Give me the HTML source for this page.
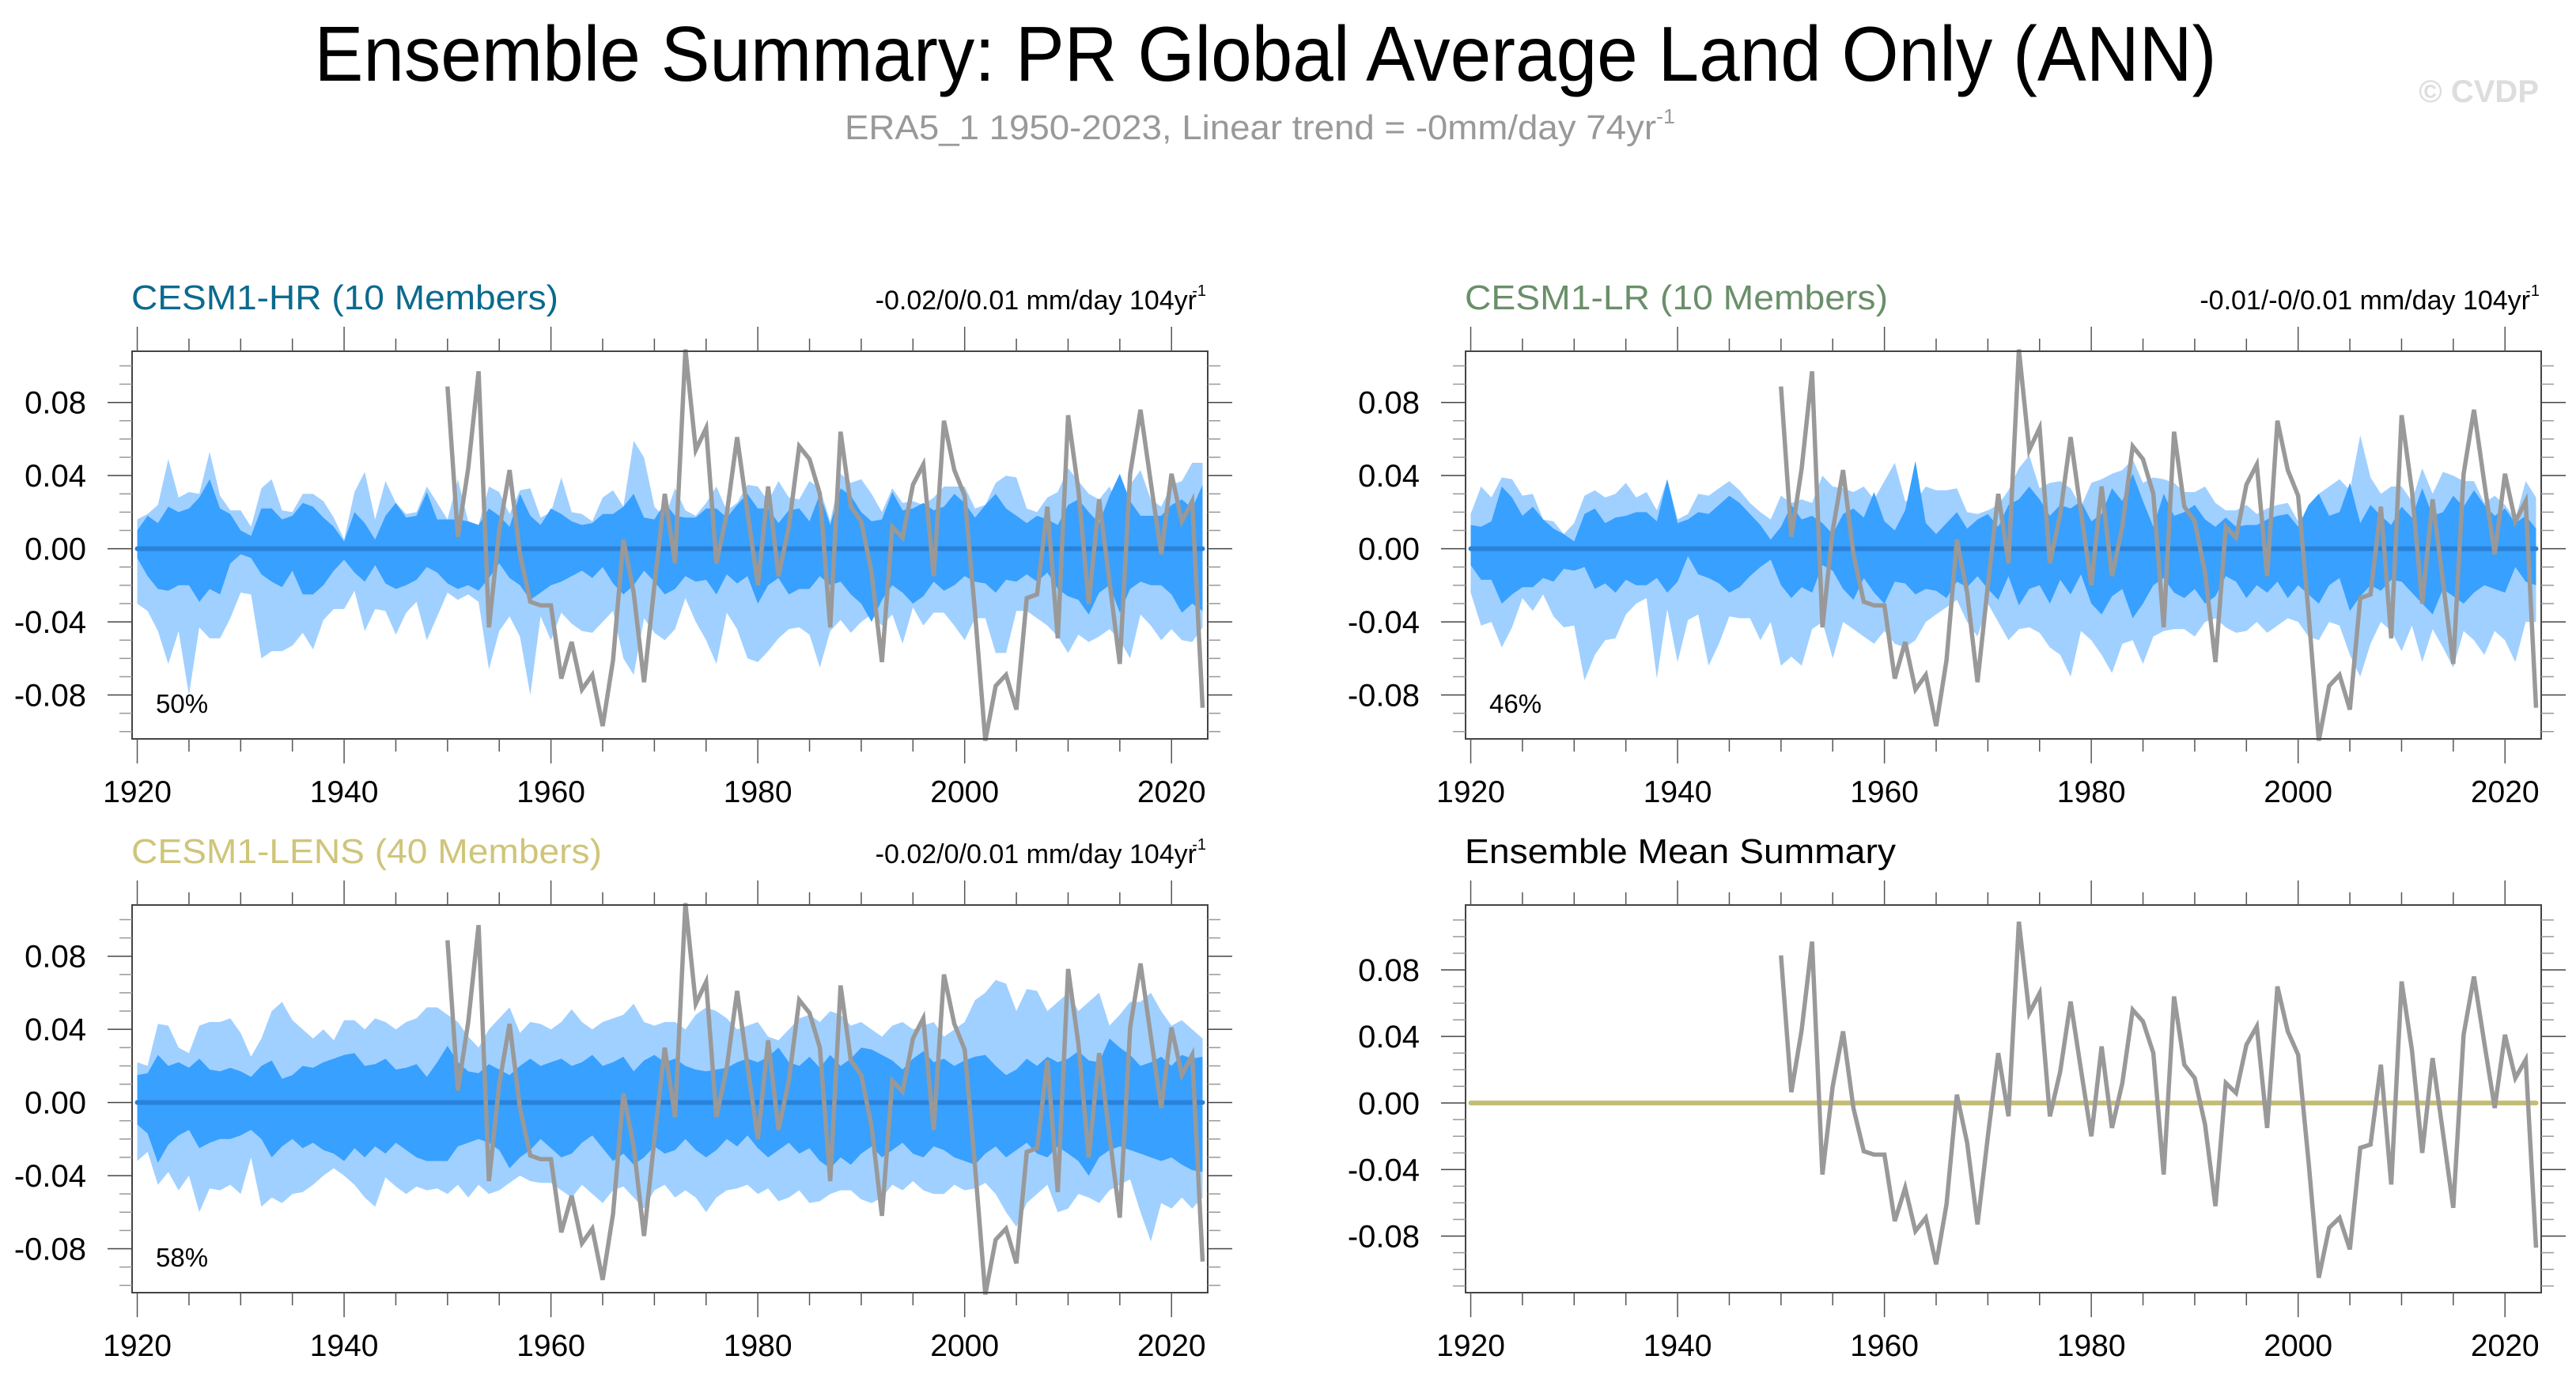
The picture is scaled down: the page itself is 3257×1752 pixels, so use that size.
<!DOCTYPE html>
<html><head><meta charset="utf-8"><title>Ensemble Summary</title>
<style>
html,body{margin:0;padding:0;background:#fff;}
svg{display:block;font-family:"Liberation Sans",Arial,sans-serif;}
</style></head>
<body>
<svg id="chart" width="3257" height="1752" viewBox="0 0 3257 1752" xmlns="http://www.w3.org/2000/svg">
<text x="1600" y="102" font-size="98" text-anchor="middle" textLength="2405" lengthAdjust="spacingAndGlyphs" fill="#000">Ensemble Summary: PR Global Average Land Only (ANN)</text>
<text x="1068" y="176" font-size="44" fill="#999" textLength="1050" lengthAdjust="spacingAndGlyphs">ERA5_1 1950-2023, Linear trend = -0mm/day 74yr<tspan font-size="26" dy="-20">-1</tspan></text>
<text x="3210" y="129" font-size="40" font-weight="bold" fill="#ddd" text-anchor="end">© CVDP</text>
<g id="panels"></g>
</svg>
<script>
// ---- data ----
const obsStartYear = 1950;
const obsValues = [0.0887,0.0065,0.044,0.097,-0.043,0.010,0.043,-0.003,-0.029,-0.031,-0.031,-0.071,-0.051,-0.077,-0.069,-0.097,-0.061,0.005,-0.024,-0.073,-0.020,0.030,-0.008,0.109,0.054,0.066,-0.008,0.019,0.061,0.020,-0.020,0.034,-0.015,0.012,0.056,0.049,0.030,-0.043,0.064,0.023,0.015,-0.013,-0.062,0.012,0.006,0.035,0.046,-0.015,0.070,0.043,0.029,-0.035,-0.105,-0.075,-0.069,-0.088,-0.027,-0.025,0.023,-0.049,0.073,0.032,-0.030,0.027,-0.018,-0.063,0.041,0.076,0.036,-0.003,0.041,0.015,0.026,-0.087];
const bandStartYear = 1920;
const hrLightUpper = [0.016,0.019,0.024,0.049,0.028,0.031,0.030,0.053,0.029,0.021,0.021,0.012,0.033,0.038,0.021,0.020,0.030,0.030,0.026,0.017,0.005,0.031,0.042,0.016,0.037,0.025,0.019,0.020,0.034,0.025,0.016,0.038,0.015,0.013,0.034,0.031,0.019,0.032,0.033,0.017,0.020,0.039,0.020,0.019,0.015,0.028,0.032,0.023,0.059,0.050,0.023,0.017,0.033,0.021,0.018,0.025,0.034,0.021,0.025,0.035,0.034,0.026,0.037,0.028,0.027,0.037,0.033,0.015,0.041,0.036,0.038,0.030,0.020,0.033,0.025,0.026,0.024,0.028,0.034,0.034,0.034,0.022,0.024,0.036,0.040,0.039,0.022,0.020,0.028,0.031,0.044,0.037,0.030,0.027,0.034,0.022,0.035,0.043,0.027,0.023,0.035,0.037,0.047,0.047];
const hrDarkUpper = [0.010,0.018,0.014,0.023,0.020,0.022,0.028,0.038,0.022,0.019,0.010,0.007,0.022,0.022,0.016,0.018,0.025,0.023,0.017,0.012,0.004,0.020,0.014,0.005,0.018,0.025,0.017,0.018,0.031,0.016,0.016,0.016,0.015,0.013,0.022,0.018,0.012,0.030,0.018,0.013,0.022,0.019,0.015,0.013,0.014,0.019,0.019,0.023,0.030,0.017,0.016,0.025,0.018,0.017,0.017,0.022,0.022,0.017,0.024,0.030,0.022,0.022,0.014,0.021,0.022,0.015,0.030,0.013,0.033,0.029,0.020,0.015,0.016,0.031,0.021,0.022,0.025,0.021,0.023,0.030,0.025,0.017,0.024,0.030,0.022,0.018,0.014,0.018,0.016,0.013,0.024,0.027,0.020,0.014,0.029,0.041,0.026,0.018,0.018,0.018,0.024,0.027,0.022,0.035];
const hrDarkLower = [-0.005,-0.015,-0.022,-0.023,-0.020,-0.020,-0.029,-0.022,-0.025,-0.008,-0.003,-0.005,-0.014,-0.018,-0.021,-0.012,-0.025,-0.025,-0.020,-0.012,-0.006,-0.013,-0.018,-0.009,-0.019,-0.022,-0.020,-0.017,-0.010,-0.013,-0.019,-0.022,-0.020,-0.023,-0.016,-0.008,-0.016,-0.020,-0.028,-0.024,-0.020,-0.018,-0.015,-0.012,-0.016,-0.010,-0.019,-0.025,-0.020,-0.012,-0.018,-0.025,-0.022,-0.015,-0.018,-0.017,-0.025,-0.014,-0.019,-0.015,-0.030,-0.020,-0.016,-0.025,-0.022,-0.022,-0.015,-0.020,-0.018,-0.025,-0.030,-0.040,-0.028,-0.020,-0.024,-0.030,-0.026,-0.018,-0.023,-0.020,-0.015,-0.018,-0.019,-0.024,-0.017,-0.018,-0.014,-0.018,-0.013,-0.022,-0.026,-0.028,-0.036,-0.024,-0.020,-0.035,-0.022,-0.018,-0.020,-0.020,-0.025,-0.035,-0.030,-0.034];
const hrLightLower = [-0.030,-0.034,-0.045,-0.063,-0.045,-0.080,-0.043,-0.049,-0.049,-0.038,-0.024,-0.025,-0.060,-0.056,-0.056,-0.053,-0.046,-0.055,-0.039,-0.033,-0.033,-0.023,-0.045,-0.033,-0.034,-0.047,-0.035,-0.029,-0.050,-0.037,-0.024,-0.028,-0.025,-0.029,-0.066,-0.045,-0.037,-0.048,-0.080,-0.037,-0.050,-0.035,-0.041,-0.045,-0.046,-0.040,-0.034,-0.060,-0.069,-0.038,-0.046,-0.050,-0.044,-0.027,-0.040,-0.050,-0.063,-0.035,-0.044,-0.060,-0.062,-0.056,-0.049,-0.044,-0.043,-0.047,-0.065,-0.045,-0.039,-0.046,-0.040,-0.036,-0.042,-0.036,-0.052,-0.032,-0.042,-0.035,-0.035,-0.042,-0.050,-0.038,-0.038,-0.057,-0.057,-0.034,-0.034,-0.038,-0.042,-0.048,-0.057,-0.047,-0.051,-0.048,-0.044,-0.050,-0.060,-0.036,-0.042,-0.050,-0.044,-0.050,-0.051,-0.043];
const lrLightUpper = [0.019,0.034,0.028,0.039,0.038,0.029,0.030,0.016,0.015,0.008,0.014,0.029,0.032,0.028,0.030,0.036,0.028,0.031,0.021,0.038,0.016,0.019,0.030,0.029,0.033,0.037,0.032,0.025,0.020,0.016,0.029,0.025,0.027,0.025,0.040,0.034,0.033,0.031,0.034,0.027,0.037,0.047,0.026,0.026,0.034,0.032,0.032,0.033,0.020,0.019,0.021,0.024,0.032,0.044,0.051,0.033,0.036,0.037,0.033,0.023,0.036,0.038,0.041,0.043,0.049,0.036,0.039,0.038,0.036,0.031,0.031,0.034,0.025,0.021,0.021,0.024,0.019,0.022,0.024,0.025,0.015,0.018,0.030,0.034,0.038,0.032,0.062,0.039,0.030,0.034,0.034,0.026,0.044,0.030,0.042,0.040,0.037,0.037,0.025,0.029,0.024,0.016,0.037,0.028];
const lrDarkUpper = [0.013,0.012,0.015,0.034,0.028,0.018,0.023,0.016,0.011,0.008,0.004,0.019,0.022,0.014,0.017,0.018,0.020,0.020,0.015,0.038,0.014,0.016,0.020,0.019,0.024,0.029,0.025,0.019,0.013,0.005,0.012,0.024,0.016,0.018,0.014,0.008,0.019,0.022,0.017,0.031,0.015,0.010,0.021,0.048,0.014,0.008,0.014,0.020,0.011,0.016,0.019,0.012,0.024,0.027,0.034,0.027,0.018,0.024,0.022,0.026,0.015,0.019,0.033,0.026,0.041,0.026,0.012,0.030,0.018,0.020,0.024,0.016,0.012,0.017,0.012,0.013,0.013,0.016,0.018,0.019,0.012,0.024,0.030,0.018,0.020,0.036,0.014,0.024,0.018,0.013,0.023,0.017,0.033,0.018,0.020,0.029,0.023,0.032,0.024,0.018,0.022,0.014,0.018,0.011];
const lrDarkLower = [-0.009,-0.017,-0.017,-0.030,-0.025,-0.021,-0.021,-0.016,-0.018,-0.011,-0.012,-0.010,-0.022,-0.019,-0.024,-0.017,-0.020,-0.020,-0.016,-0.024,-0.018,-0.004,-0.014,-0.016,-0.019,-0.024,-0.021,-0.015,-0.010,-0.006,-0.020,-0.027,-0.021,-0.024,-0.009,-0.012,-0.022,-0.028,-0.016,-0.024,-0.030,-0.018,-0.019,-0.025,-0.022,-0.023,-0.027,-0.018,-0.021,-0.015,-0.022,-0.028,-0.015,-0.031,-0.022,-0.020,-0.030,-0.017,-0.025,-0.014,-0.030,-0.036,-0.026,-0.022,-0.038,-0.030,-0.020,-0.016,-0.024,-0.027,-0.022,-0.030,-0.026,-0.015,-0.018,-0.027,-0.020,-0.024,-0.018,-0.027,-0.020,-0.025,-0.030,-0.020,-0.016,-0.034,-0.026,-0.020,-0.023,-0.017,-0.018,-0.024,-0.030,-0.036,-0.022,-0.026,-0.030,-0.024,-0.020,-0.022,-0.024,-0.010,-0.018,-0.020];
const lrLightLower = [-0.024,-0.042,-0.040,-0.054,-0.043,-0.027,-0.034,-0.025,-0.037,-0.043,-0.042,-0.072,-0.058,-0.050,-0.049,-0.036,-0.030,-0.027,-0.071,-0.033,-0.062,-0.039,-0.036,-0.064,-0.052,-0.037,-0.038,-0.038,-0.050,-0.040,-0.064,-0.059,-0.064,-0.044,-0.040,-0.060,-0.040,-0.044,-0.048,-0.052,-0.045,-0.052,-0.054,-0.050,-0.040,-0.036,-0.032,-0.028,-0.040,-0.048,-0.030,-0.040,-0.050,-0.044,-0.043,-0.046,-0.054,-0.058,-0.070,-0.045,-0.050,-0.058,-0.068,-0.052,-0.050,-0.063,-0.048,-0.045,-0.044,-0.044,-0.048,-0.040,-0.038,-0.043,-0.046,-0.045,-0.040,-0.046,-0.042,-0.038,-0.040,-0.048,-0.050,-0.040,-0.042,-0.058,-0.070,-0.052,-0.040,-0.045,-0.056,-0.042,-0.062,-0.044,-0.054,-0.065,-0.045,-0.050,-0.058,-0.045,-0.050,-0.062,-0.040,-0.040];
const lensLightUpper = [0.022,0.020,0.043,0.042,0.030,0.027,0.042,0.044,0.044,0.046,0.038,0.025,0.035,0.050,0.055,0.045,0.040,0.035,0.040,0.034,0.045,0.045,0.040,0.046,0.044,0.040,0.044,0.046,0.052,0.052,0.048,0.044,0.036,0.030,0.040,0.046,0.052,0.038,0.044,0.043,0.040,0.044,0.051,0.044,0.040,0.044,0.046,0.048,0.054,0.044,0.042,0.044,0.044,0.040,0.048,0.052,0.050,0.046,0.040,0.042,0.044,0.036,0.034,0.040,0.046,0.048,0.044,0.050,0.048,0.042,0.044,0.040,0.036,0.042,0.044,0.040,0.042,0.044,0.036,0.040,0.044,0.056,0.060,0.067,0.065,0.050,0.062,0.061,0.050,0.055,0.060,0.050,0.055,0.060,0.042,0.048,0.055,0.055,0.060,0.050,0.042,0.045,0.040,0.035];
const lensDarkUpper = [0.015,0.016,0.026,0.020,0.022,0.019,0.024,0.018,0.017,0.019,0.017,0.014,0.020,0.023,0.013,0.015,0.020,0.019,0.022,0.024,0.026,0.027,0.020,0.021,0.024,0.018,0.019,0.021,0.014,0.022,0.031,0.022,0.017,0.016,0.021,0.018,0.015,0.020,0.024,0.020,0.022,0.024,0.020,0.022,0.026,0.020,0.022,0.025,0.017,0.023,0.026,0.022,0.024,0.020,0.018,0.017,0.018,0.019,0.022,0.024,0.022,0.025,0.030,0.022,0.020,0.025,0.019,0.026,0.020,0.024,0.030,0.029,0.026,0.023,0.018,0.024,0.028,0.022,0.024,0.020,0.023,0.025,0.026,0.020,0.015,0.018,0.024,0.020,0.025,0.022,0.024,0.028,0.023,0.022,0.035,0.030,0.026,0.020,0.022,0.025,0.020,0.026,0.024,0.025];
const lensDarkLower = [-0.012,-0.017,-0.033,-0.023,-0.018,-0.015,-0.025,-0.022,-0.020,-0.020,-0.018,-0.015,-0.020,-0.030,-0.024,-0.020,-0.025,-0.022,-0.026,-0.028,-0.032,-0.025,-0.030,-0.024,-0.028,-0.022,-0.026,-0.030,-0.032,-0.032,-0.032,-0.024,-0.022,-0.020,-0.022,-0.026,-0.036,-0.030,-0.026,-0.020,-0.025,-0.030,-0.028,-0.022,-0.018,-0.025,-0.032,-0.028,-0.034,-0.030,-0.024,-0.028,-0.026,-0.020,-0.026,-0.030,-0.026,-0.020,-0.024,-0.018,-0.025,-0.030,-0.026,-0.022,-0.028,-0.025,-0.032,-0.036,-0.030,-0.034,-0.028,-0.024,-0.030,-0.026,-0.022,-0.028,-0.030,-0.024,-0.026,-0.030,-0.032,-0.034,-0.028,-0.024,-0.030,-0.026,-0.022,-0.028,-0.030,-0.024,-0.028,-0.032,-0.040,-0.030,-0.026,-0.024,-0.026,-0.028,-0.030,-0.032,-0.030,-0.034,-0.037,-0.038];
const lensLightLower = [-0.032,-0.027,-0.045,-0.038,-0.048,-0.040,-0.060,-0.047,-0.048,-0.045,-0.050,-0.030,-0.057,-0.052,-0.055,-0.050,-0.049,-0.045,-0.040,-0.036,-0.040,-0.045,-0.052,-0.057,-0.041,-0.046,-0.050,-0.046,-0.048,-0.047,-0.050,-0.045,-0.052,-0.045,-0.050,-0.048,-0.044,-0.040,-0.043,-0.044,-0.044,-0.048,-0.052,-0.045,-0.050,-0.055,-0.048,-0.046,-0.052,-0.058,-0.048,-0.045,-0.052,-0.048,-0.052,-0.060,-0.052,-0.048,-0.047,-0.045,-0.050,-0.047,-0.054,-0.052,-0.048,-0.055,-0.054,-0.050,-0.048,-0.048,-0.053,-0.055,-0.052,-0.045,-0.048,-0.043,-0.048,-0.050,-0.050,-0.045,-0.048,-0.047,-0.044,-0.050,-0.060,-0.068,-0.055,-0.050,-0.045,-0.060,-0.058,-0.050,-0.052,-0.055,-0.048,-0.045,-0.042,-0.060,-0.076,-0.055,-0.058,-0.052,-0.058,-0.052];
const ensembleMeanValues = [0, 0];
const xTickYears = [1920,1940,1960,1980,2000,2020];
const yTickValues = [0.08,0.04,0.00,-0.04,-0.08];
const yTickLabels = ["0.08","0.04","0.00","-0.04","-0.08"];

// ---- drawing ----
const NS = "http://www.w3.org/2000/svg";
const root = document.getElementById("panels");
function mk(tag, attrs, parent){
  const e = document.createElementNS(NS, tag);
  for (const k in attrs) e.setAttribute(k, attrs[k]);
  (parent||root).appendChild(e);
  return e;
}
const X0 = 1919.5, X1 = 2023.5;

function panel(cfg){
  const g = mk("g", {});
  
  
  const L = cfg.x, R = cfg.x + cfg.w, T = cfg.y, B = cfg.y + cfg.h;
  const sx = yr => L + (yr - X0) / (X1 - X0) * (R - L);
  const sy = v => T + (cfg.ymax - v) / (cfg.ymax - cfg.ymin) * (B - T);

  function band(up, lo, fill, nm){
    let pts = [];
    for (let i = 0; i < up.length; i++) pts.push(sx(bandStartYear + i).toFixed(1) + "," + sy(up[i]).toFixed(1));
    for (let i = lo.length - 1; i >= 0; i--) pts.push(sx(bandStartYear + i).toFixed(1) + "," + sy(lo[i]).toFixed(1));
    const p = mk("polygon", {points: pts.join(" "), fill: fill}, g);
    
    
  }
  if (cfg.bands){
    band(cfg.bands[0], cfg.bands[3], "#a0d0ff", "outer-spread-band");
    band(cfg.bands[1], cfg.bands[2], "#38a0ff", "inner-spread-band");
  }
  const ml = mk("line", {x1: sx(1920), x2: sx(2023), y1: sy(ensembleMeanValues[0]), y2: sy(ensembleMeanValues[1]), stroke: cfg.meanColor, "stroke-width": cfg.meanWidth, "stroke-linecap": "round"}, g);
  
  
  const op = obsValues.map((v, i) => sx(obsStartYear + i).toFixed(1) + "," + sy(v).toFixed(1)).join(" ");
  const ol = mk("polyline", {points: op, fill: "none", stroke: "#999", "stroke-width": 5.5, "stroke-linejoin": "miter"}, g);
  
  
  const fr = mk("rect", {x: L, y: T, width: R - L, height: B - T, fill: "none", stroke: "#444", "stroke-width": 2}, g);
  
  
  for (let yr = 1920; yr <= 2020; yr += 5){
    const major = yr % 20 === 0;
    const len = major ? 31 : 16;
    mk("line", {x1: sx(yr), x2: sx(yr), y1: T, y2: T - len, stroke: "#555", "stroke-width": 1.5}, g);
    mk("line", {x1: sx(yr), x2: sx(yr), y1: B, y2: B + len, stroke: "#555", "stroke-width": 1.5}, g);
  }
  xTickYears.forEach(yr => {
    const t = mk("text", {x: sx(yr), y: B + 80, "font-size": 39, "text-anchor": "middle", fill: "#000"}, g);
    t.textContent = String(yr);
    
    
  });
  for (let k = -12; k <= 12; k++){
    const v = k / 100;
    if (v < cfg.ymin || v > cfg.ymax) continue;
    const major = k % 4 === 0;
    const len = major ? 31 : 16;
    const c = major ? "#444" : "#999";
    mk("line", {x1: L, x2: L - len, y1: sy(v), y2: sy(v), stroke: c, "stroke-width": 1.5}, g);
    mk("line", {x1: R, x2: R + len, y1: sy(v), y2: sy(v), stroke: c, "stroke-width": 1.5}, g);
  }
  yTickValues.forEach((v, i) => {
    const t = mk("text", {x: L - 58, y: sy(v) + 14, "font-size": 40, "text-anchor": "end", fill: "#000"}, g);
    t.textContent = yTickLabels[i];
    
    
  });
  const tt = mk("text", {x: L - 1, y: T - 53, "font-size": 44, fill: cfg.titleColor, textLength: cfg.titleLen, lengthAdjust: "spacingAndGlyphs"}, g);
  tt.textContent = cfg.title;
  
  
  if (cfg.trend){
    const tr = mk("text", {x: R - 14, y: T - 53, "font-size": 34, "text-anchor": "end", fill: "#000"}, g);
    tr.textContent = cfg.trend;
    
    
    const sup = mk("text", {x: R - 2, y: T - 70, "font-size": 20, "text-anchor": "end", fill: "#000"}, g);
    sup.textContent = "-1";
    
    
  }
  if (cfg.pct){
    const pt = mk("text", {x: L + 30, y: B - 33, "font-size": 33, fill: "#000"}, g);
    pt.textContent = cfg.pct;
    
    
  }
}

panel({name: "cesm1-hr-panel", x: 167, y: 444, w: 1360, h: 490, ymin: -0.104, ymax: 0.108,
  bands: [hrLightUpper, hrDarkUpper, hrDarkLower, hrLightLower], meanColor: "#2a82d8", meanWidth: 6,
  title: "CESM1-HR (10 Members)", titleColor: "#0b6a8e", titleLen: 540, trend: "-0.02/0/0.01 mm/day 104yr", pct: "50%"});
panel({name: "cesm1-lr-panel", x: 1853, y: 444, w: 1360, h: 490, ymin: -0.104, ymax: 0.108,
  bands: [lrLightUpper, lrDarkUpper, lrDarkLower, lrLightLower], meanColor: "#2a82d8", meanWidth: 6,
  title: "CESM1-LR (10 Members)", titleColor: "#6a8f6a", titleLen: 535, trend: "-0.01/-0/0.01 mm/day 104yr", pct: "46%"});
panel({name: "cesm1-lens-panel", x: 167, y: 1144, w: 1360, h: 490, ymin: -0.104, ymax: 0.108,
  bands: [lensLightUpper, lensDarkUpper, lensDarkLower, lensLightLower], meanColor: "#2a82d8", meanWidth: 6,
  title: "CESM1-LENS (40 Members)", titleColor: "#cfc57a", titleLen: 595, trend: "-0.02/0/0.01 mm/day 104yr", pct: "58%"});
panel({name: "ensemble-mean-summary-panel", x: 1853, y: 1144, w: 1360, h: 490, ymin: -0.114, ymax: 0.119,
  bands: null, meanColor: "#c4bc74", meanWidth: 6,
  title: "Ensemble Mean Summary", titleColor: "#000", titleLen: 545, trend: null, pct: null});
</script>
</body></html>
